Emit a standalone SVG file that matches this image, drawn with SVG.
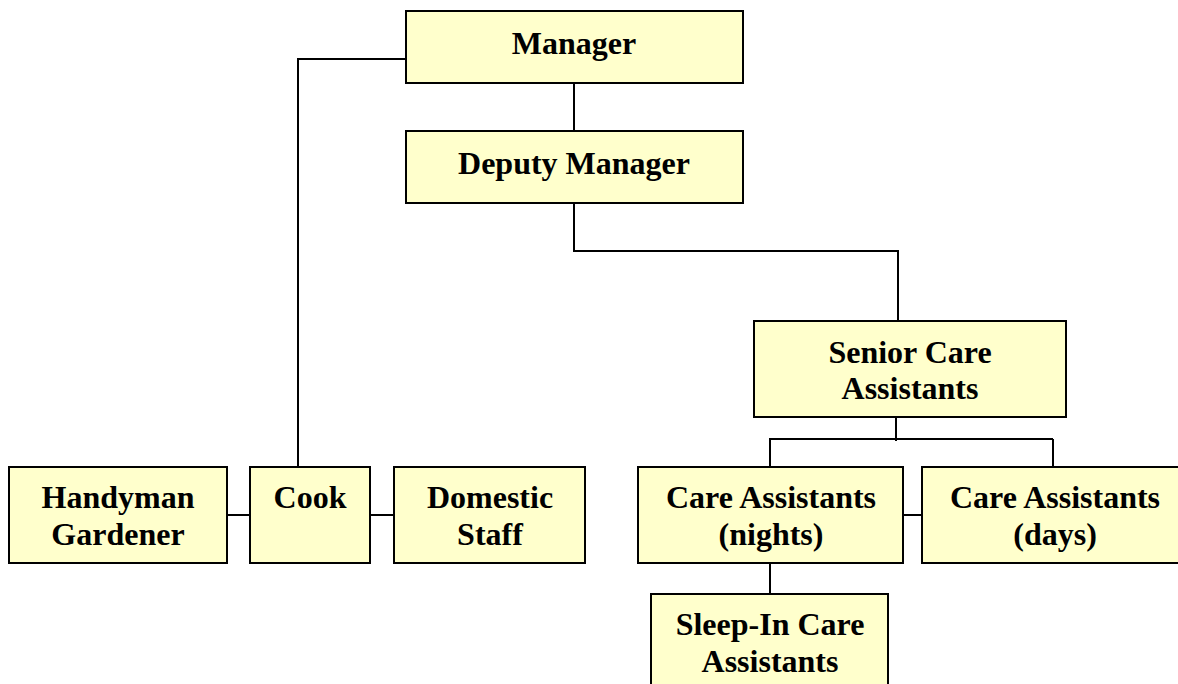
<svg xmlns="http://www.w3.org/2000/svg" width="1178" height="684" viewBox="0 0 1178 684">
<style>
.box{fill:#FFFFCC;stroke:#000;stroke-width:2}
.t{font-family:"Liberation Serif","Times New Roman",serif;font-weight:bold;font-size:32px;text-anchor:middle;fill:#000}
.c{fill:none;stroke:#000;stroke-width:2}
</style>
<rect width="1178" height="684" fill="#fff"/>
<g id="connectors">
<path class="c" d="M574 83V131"/>
<path class="c" d="M406 59H298V467"/>
<path class="c" d="M574 203V251H898V321"/>
<path class="c" d="M896 417V441"/>
<path class="c" d="M769 439H1053"/>
<path class="c" d="M770 439V467"/>
<path class="c" d="M1053 439V467"/>
<path class="c" d="M227 515H250"/>
<path class="c" d="M370 515H394"/>
<path class="c" d="M903 515H922"/>
<path class="c" d="M770 563V594"/>
</g>
<g id="manager"><rect class="box" x="406" y="11" width="337" height="72"/><text class="t" x="574" y="54">Manager</text></g>
<g id="deputy"><rect class="box" x="406" y="131" width="337" height="72"/><text class="t" x="574" y="174">Deputy Manager</text></g>
<g id="senior"><rect class="box" x="754" y="321" width="312" height="96"/><text class="t" x="910" y="363">Senior Care</text><text class="t" x="910" y="399">Assistants</text></g>
<g id="handyman"><rect class="box" x="9" y="467" width="218" height="96"/><text class="t" x="118" y="508">Handyman</text><text class="t" x="118" y="545">Gardener</text></g>
<g id="cook"><rect class="box" x="250" y="467" width="120" height="96"/><text class="t" x="310" y="508">Cook</text></g>
<g id="domestic"><rect class="box" x="394" y="467" width="191" height="96"/><text class="t" x="490" y="508">Domestic</text><text class="t" x="490" y="545">Staff</text></g>
<g id="nights"><rect class="box" x="638" y="467" width="265" height="96"/><text class="t" x="771" y="508">Care Assistants</text><text class="t" x="771" y="545">(nights)</text></g>
<g id="days"><rect class="box" x="922" y="467" width="260" height="96"/><text class="t" x="1055" y="508">Care Assistants</text><text class="t" x="1055" y="545">(days)</text></g>
<g id="sleepin"><rect class="box" x="651" y="594" width="237" height="100"/><text class="t" x="770" y="635">Sleep-In Care</text><text class="t" x="770" y="672">Assistants</text></g>
</svg>
